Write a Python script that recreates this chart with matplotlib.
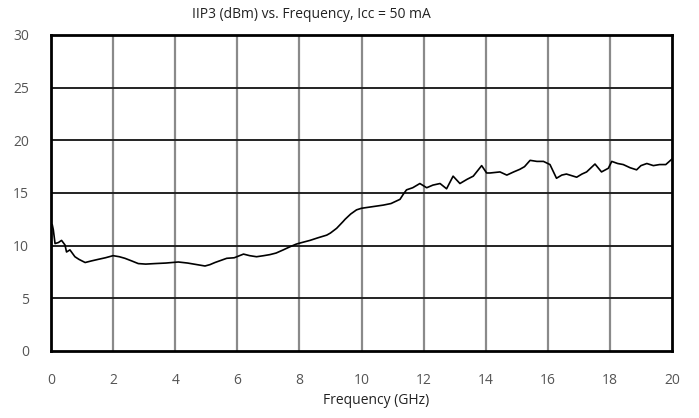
import matplotlib.pyplot as plt

plt.rcParams['font.family'] = ['Open Sans', 'DejaVu Sans']

# IIP3 curve
freq = [0.0, 0.04, 0.075, 0.13, 0.24, 0.34, 0.45, 0.5, 0.61, 0.77, 0.9, 1.1, 1.3, 1.52, 1.75, 2.0,
        2.2, 2.38, 2.6, 2.81, 3.05, 3.35, 3.7, 4.1, 4.4, 4.7, 4.96, 5.12, 5.28, 5.66, 5.9, 6.2,
        6.4, 6.62, 6.85, 7.05, 7.25, 7.48, 7.7, 7.9, 8.02, 8.34, 8.6, 8.88, 9.0, 9.2, 9.41, 9.47,
        9.65, 9.84, 10.0, 10.35, 10.7, 10.95, 11.24, 11.35, 11.45, 11.65, 11.88, 12.1, 12.3, 12.53,
        12.74, 12.95, 13.17, 13.4, 13.6, 13.87, 14.03, 14.14, 14.46, 14.68, 14.9, 15.1, 15.25, 15.43,
        15.65, 15.86, 16.07, 16.28, 16.45, 16.6, 16.93, 17.1, 17.25, 17.52, 17.73, 17.95, 18.06, 18.25,
        18.43, 18.65, 18.86, 19.0, 19.19, 19.4, 19.6, 19.8, 19.99]
iip3 = [11.9, 12.0, 11.5, 10.2, 10.3, 10.5, 10.07, 9.4, 9.6, 8.95, 8.7, 8.4, 8.55, 8.7, 8.85, 9.05,
        8.95, 8.8, 8.55, 8.3, 8.25, 8.3, 8.35, 8.45, 8.35, 8.2, 8.07, 8.2, 8.4, 8.8, 8.85, 9.2,
        9.05, 8.95, 9.05, 9.15, 9.3, 9.6, 9.9, 10.15, 10.25, 10.5, 10.75, 11.0, 11.2, 11.65, 12.3, 12.5,
        13.0, 13.4, 13.55, 13.7, 13.85, 14.0, 14.4, 14.9, 15.3, 15.5, 15.9, 15.5, 15.75, 15.9,
        15.4, 16.6, 15.9, 16.3, 16.6, 17.6, 16.9, 16.9, 17.0, 16.7, 17.0, 17.25, 17.5, 18.1,
        18.0, 18.0, 17.7, 16.4, 16.7, 16.8, 16.5, 16.8, 17.0, 17.75, 17.0, 17.35, 18.0, 17.8,
        17.7, 17.4, 17.2, 17.6, 17.8, 17.6, 17.7, 17.7, 18.2]

x_ticks = [0, 2, 4, 6, 8, 10, 12, 14, 16, 18, 20]
y_ticks = [0, 5, 10, 15, 20, 25, 30]

fig = plt.figure(figsize=(6.99, 4.18), dpi=100)
ax = fig.add_axes([51 / 699, 1 - 351 / 418, 621 / 699, 316 / 418])

ax.plot(freq, iip3, color='black', linewidth=1.2)

ax.set_xlim(0, 20)
ax.set_ylim(0, 30)
ax.set_xticks(x_ticks)
ax.set_yticks(y_ticks)
ax.tick_params(length=0, labelsize=10, labelcolor='#555555')
ax.tick_params(axis='x', pad=16)
ax.tick_params(axis='y', pad=16)

for x in x_ticks[1:-1]:
    ax.axvline(x, color='#8a8a8a', linewidth=1.6, zorder=0)
for y in y_ticks[1:-1]:
    ax.axhline(y, color='#222222', linewidth=1.4, zorder=0)

for s in ax.spines.values():
    s.set_linewidth(2)
    s.set_color('black')

fig.text(311 / 699, 1 - 14 / 418, 'IIP3 (dBm) vs. Frequency, Icc = 50 mA',
         ha='center', va='center', fontsize=10, color='#222222')
fig.text(376 / 699, 1 - 401 / 418, 'Frequency (GHz)',
         ha='center', va='center', fontsize=10, color='#222222')

fig.savefig('out.png', dpi=100)
